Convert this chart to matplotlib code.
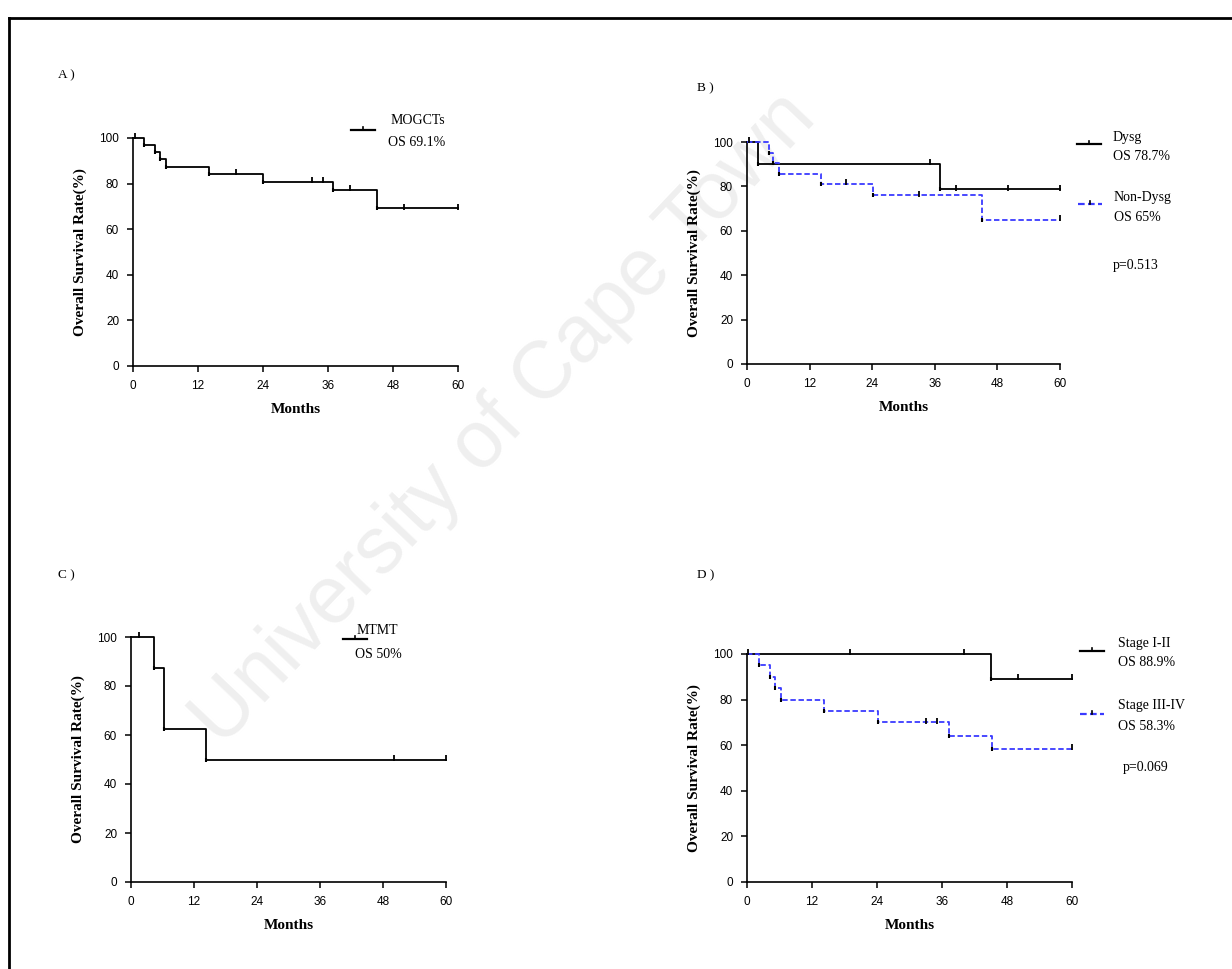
import numpy as np
import matplotlib
matplotlib.use('Agg')
import matplotlib.pyplot as plt
from matplotlib.lines import Line2D

# Panel A - all MOGCTs
a_times = [0, 2, 4, 5, 6, 14, 24, 37, 45, 60]
a_surv = [100, 96.9, 93.8, 90.6, 87.4, 84.2, 80.7, 77.2, 69.1, 69.1]
a_cens = [0.3, 19, 33, 35, 40, 50, 60]

# Panel B - dysgerminoma vs non-dysgerminoma
b1_times = [0, 2.2, 37, 60]
b1_surv = [100, 90, 78.7, 78.7]
b1_cens = [0.4, 35, 40, 50, 60]
b2_times = [0, 4.3, 5, 6.1, 14.2, 24.2, 45, 60]
b2_surv = [100, 95.2, 90.5, 85.7, 81.0, 76.0, 65, 65]
b2_cens = [19, 33, 60]

# Panel C - MTMT
c_times = [0, 4.4, 6.3, 14.3, 60]
c_surv = [100, 87.5, 62.5, 50, 50]
c_cens = [1.5, 50, 60]

# Panel D - stage
d1_times = [0, 45.1, 60]
d1_surv = [100, 88.9, 88.9]
d1_cens = [0.2, 19, 40, 50, 60]
d2_times = [0, 2.2, 4.2, 5.2, 6.2, 14.2, 24.2, 37.3, 45.3, 60]
d2_surv = [100, 95, 90, 85, 80, 75, 70, 64.2, 58.3, 58.3]
d2_cens = [33, 35, 60]

xticks = [0, 12, 24, 36, 48, 60]
yticks = [0, 20, 40, 60, 80, 100]

BLUE = '#3a3aff'
DASH = (0, (3, 1.5))
SERIF = 'Liberation Serif'
SANS = 'Liberation Sans'

W, H = 1232, 969
fig = plt.figure(figsize=(W / 100, H / 100), dpi=100)


def px_axes(x0, y0, x1, y1):
    # axes from pixel box (left, top, right, bottom)
    ax = fig.add_axes([x0 / W, 1 - y1 / H, (x1 - x0) / W, (y1 - y0) / H])
    ax.set_facecolor('none')
    return ax


def surv_at(times, surv, t):
    i = np.searchsorted(times, t, side='right') - 1
    return surv[min(i, len(surv) - 1)]


def km(ax, times, surv, cens, color, ls):
    ax.step(times, surv, where='post', color=color, linestyle=ls, lw=1.3,
            clip_on=False, zorder=3)
    # small marks at the foot of each drop
    ax.plot(times[1:-1], surv[1:-1], linestyle='none', marker='|', ms=3,
            mew=1.5, color='black', clip_on=False, zorder=4)
    cy = [surv_at(times, surv, t) + 0.8 for t in cens]
    ax.plot(cens, cy, linestyle='none', marker='|', ms=4, mew=1.3,
            color='black', clip_on=False, zorder=4)


def style(ax):
    ax.set_xlim(0, 60)
    ax.set_ylim(0, 100)
    ax.set_xticks(xticks)
    ax.set_yticks(yticks)
    for s in ['top', 'right']:
        ax.spines[s].set_visible(False)
    for s in ['left', 'bottom']:
        ax.spines[s].set_linewidth(1.2)
    ax.tick_params(direction='out', length=4, width=1.1, pad=6,
                   labelsize=8.5)
    for lab in ax.get_xticklabels() + ax.get_yticklabels():
        lab.set_family(SANS)
    ax.set_xlabel('Months', family=SERIF, fontweight='bold', fontsize=11,
                  labelpad=8)
    ax.set_ylabel('Overall Survival Rate(%)', family=SERIF,
                  fontweight='bold', fontsize=11, labelpad=9)


def legend_entry(x0, y, color, ls):
    fig.add_artist(Line2D([x0 / W, (x0 + 24) / W], [1 - y / H, 1 - y / H],
                          color=color, linestyle=ls, lw=1.6))
    fig.add_artist(Line2D([(x0 + 12) / W] * 2, [1 - y / H, 1 - (y - 3) / H],
                          color='black', lw=1.2))


def txt(x, y, s, size=10):
    fig.text(x / W, 1 - y / H, s, family=SERIF, fontsize=size,
             va='center', ha='left')


# watermark
fig.text(505 / W, 1 - 420 / H, 'University of Cape Town', family=SANS,
         fontsize=58, color='#efefef', rotation=46.5, ha='center',
         va='center', zorder=-5)

# frame lines top/left
fig.add_artist(Line2D([9 / W, 1], [1 - 18 / H, 1 - 18 / H], color='black', lw=2))
fig.add_artist(Line2D([9 / W, 9 / W], [0, 1 - 18 / H], color='black', lw=2))

# A
axA = px_axes(133, 138, 458, 366)
km(axA, a_times, a_surv, a_cens, 'black', '-')
style(axA)
txt(58, 75, 'A )', 9.5)
legend_entry(351, 130, 'black', '-')
txt(391, 120, 'MOGCTs')
txt(388, 142, 'OS 69.1%')

# B
axB = px_axes(747, 142, 1060, 364)
km(axB, b1_times, b1_surv, b1_cens, 'black', '-')
km(axB, b2_times, b2_surv, b2_cens, BLUE, DASH)
style(axB)
txt(697, 88, 'B )', 9.5)
legend_entry(1077, 144, 'black', '-')
txt(1113, 137, 'Dysg')
txt(1113, 157, 'OS 78.7%')
legend_entry(1078, 204, BLUE, DASH)
txt(1114, 197, 'Non-Dysg')
txt(1114, 217, 'OS 65%')
txt(1113, 265, 'p=0.513')

# C
axC = px_axes(131, 637, 446, 882)
km(axC, c_times, c_surv, c_cens, 'black', '-')
style(axC)
txt(58, 575, 'C )', 9.5)
legend_entry(343, 639, 'black', '-')
txt(357, 630, 'MTMT')
txt(355, 654, 'OS 50%')

# D
axD = px_axes(747, 654, 1072, 882)
km(axD, d1_times, d1_surv, d1_cens, 'black', '-')
km(axD, d2_times, d2_surv, d2_cens, BLUE, DASH)
style(axD)
txt(697, 575, 'D )', 9.5)
legend_entry(1080, 651, 'black', '-')
txt(1118, 643, 'Stage I-II')
txt(1118, 662, 'OS 88.9%')
legend_entry(1080, 714, BLUE, DASH)
txt(1118, 705, 'Stage III-IV')
txt(1118, 727, 'OS 58.3%')
txt(1123, 768, 'p=0.069')

fig.savefig('out.png', dpi=100)
